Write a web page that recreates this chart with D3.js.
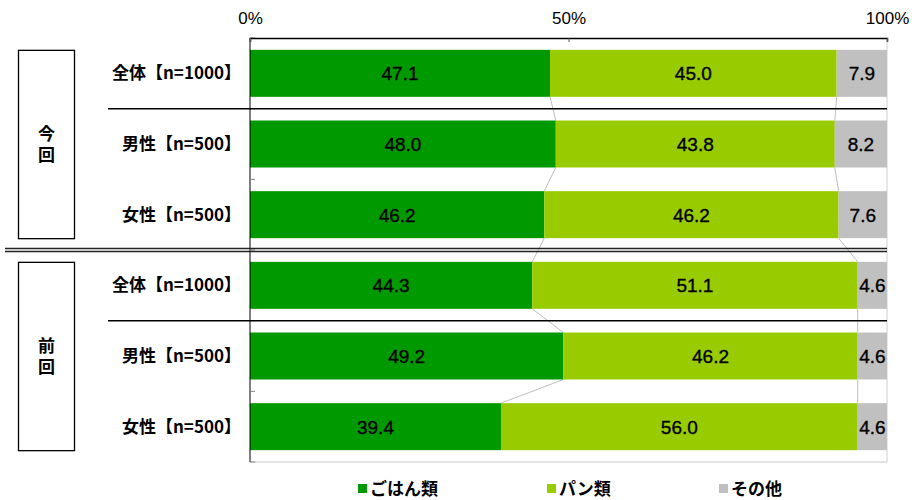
<!DOCTYPE html>
<html>
<head>
<meta charset="utf-8">
<script src="https://cdn.jsdelivr.net/npm/d3@7"></script>
<style>
body { margin: 0; background: #fff; }
svg { display: block; font-family: "Noto Sans CJK JP", "Liberation Sans", sans-serif; }
</style>
</head>
<body>
<script>
//chart data
var categories = ["全体【n=1000】", "男性【n=500】", "女性【n=500】", "全体【n=1000】", "男性【n=500】", "女性【n=500】"];
var groups = ["今回", "前回"];
var seriesNames = ["ごはん類", "パン類", "その他"];
var gohan = [47.1, 48.0, 46.2, 44.3, 49.2, 39.4];
var pan = [45.0, 43.8, 46.2, 51.1, 46.2, 56.0];
var sonota = [7.9, 8.2, 7.6, 4.6, 4.6, 4.6];
var tickLabels = ["0%", "50%", "100%"];
var colors = ["#009900", "#99cc00", "#c0c0c0"];

var width = 912, height = 500;

var svg = d3.select("body").append("svg")
    .attr("width", width)
    .attr("height", height);

var x = d3.scaleLinear().domain([0, 100]).range([250, 887]);
var y = d3.scaleBand().domain(d3.range(categories.length)).range([38, 462]).paddingInner(0.335).paddingOuter(0.1675);

//build rows for stacking
var rows = categories.map(function(c, i){
    return {i: i, "ごはん類": gohan[i], "パン類": pan[i], "その他": sonota[i]};
});
var stacked = d3.stack().keys(seriesNames)(rows);

//frame: right and bottom light, top dark
svg.append("line").attr("x1", x(100)).attr("x2", x(100)).attr("y1", 38).attr("y2", 462)
    .attr("stroke", "#d0d0d0").attr("stroke-width", 1);
svg.append("line").attr("x1", x(0)).attr("x2", x(100)).attr("y1", 462).attr("y2", 462)
    .attr("stroke", "#d9d9d9").attr("stroke-width", 1.5);

//connector lines between consecutive bars
stacked.slice(0, 2).forEach(function(s){
    for (var i = 0; i < s.length - 1; i++){
        svg.append("line")
            .attr("x1", x(s[i][1])).attr("y1", y(i) + y.bandwidth())
            .attr("x2", x(s[i + 1][1])).attr("y2", y(i + 1))
            .attr("stroke", "#a0a0a0").attr("stroke-width", 0.7);
    }
});

//bars
var layers = svg.selectAll(".layer")
    .data(stacked)
    .enter().append("g")
    .attr("class", "layer")
    .attr("fill", function(d, k){ return colors[k]; });

layers.selectAll("rect")
    .data(function(d){ return d; })
    .enter().append("rect")
    .attr("x", function(d){ return x(d[0]); })
    .attr("y", function(d){ return y(d.data.i); })
    .attr("width", function(d){ return x(d[1]) - x(d[0]); })
    .attr("height", y.bandwidth());

//value labels
layers.selectAll("text")
    .data(function(d){ return d; })
    .enter().append("text")
    .attr("x", function(d){ return (x(d[0]) + x(d[1])) / 2; })
    .attr("y", function(d){ return y(d.data.i) + y.bandwidth() / 2; })
    .attr("dy", "0.36em")
    .attr("text-anchor", "middle")
    .attr("fill", "#000")
    .attr("stroke", "#000")
    .attr("stroke-width", 0.35)
    .style("font-family", "'Liberation Sans', Arial, sans-serif")
    .style("font-size", "19px")
    .text(function(d){ return (d[1] - d[0]).toFixed(1); });

//left axis with inward ticks at band edges
var yAxisG = svg.append("g");
yAxisG.append("line").attr("x1", 250).attr("x2", 250).attr("y1", 38).attr("y2", 462)
    .attr("stroke", "#000").attr("stroke-width", 1);
d3.range(categories.length + 1).forEach(function(k){
    var yy = 38 + k * y.step();
    yAxisG.append("line").attr("x1", 250).attr("x2", 255).attr("y1", yy).attr("y2", yy)
        .attr("stroke", "#808080").attr("stroke-width", 1);
});

//top axis
var xAxis = d3.axisTop(x).tickValues([0, 50, 100]).tickSize(-4)
    .tickFormat(function(d, i){ return tickLabels[i]; });
var xg = svg.append("g").attr("transform", "translate(0,38)").call(xAxis);
xg.select(".domain").attr("stroke", "#000").attr("stroke-width", 1.5);
xg.selectAll(".tick line").attr("stroke", "#555");
xg.selectAll(".tick text")
    .attr("y", -14)
    .attr("dy", "0em")
    .attr("fill", "#000")
    .style("font-family", "'Liberation Sans', Arial, sans-serif")
    .style("font-size", "17px");

//separator lines inside groups
[1, 4].forEach(function(k){
    var yy = 38 + k * y.step();
    svg.append("line").attr("x1", 108).attr("x2", 887).attr("y1", yy).attr("y2", yy)
        .attr("stroke", "#000").attr("stroke-width", 1.5);
});

//double line between groups
var yMid = 38 + 3 * y.step();
[-1.5, 1.5].forEach(function(o){
    svg.append("line").attr("x1", 5).attr("x2", 887).attr("y1", yMid + o).attr("y2", yMid + o)
        .attr("stroke", "#222").attr("stroke-width", 1.3);
});

//category labels
svg.selectAll(".cat")
    .data(categories)
    .enter().append("text")
    .attr("class", "cat")
    .attr("x", 241)
    .attr("y", function(d, i){ return y(i) + y.bandwidth() / 2; })
    .attr("dy", "0.36em")
    .attr("text-anchor", "end")
    .style("font-size", "17px")
    .style("font-weight", "bold")
    .text(function(d){ return d; });

//group boxes with vertical text
groups.forEach(function(g, k){
    var top = y(k * 3), bottom = y(k * 3 + 2) + y.bandwidth();
    svg.append("rect")
        .attr("x", 18.5).attr("y", top + 0.5)
        .attr("width", 56).attr("height", bottom - top)
        .attr("fill", "none").attr("stroke", "#000").attr("stroke-width", 1.3);
    svg.append("text")
        .attr("x", 46.5)
        .attr("y", (top + bottom) / 2 + 2)
        .attr("text-anchor", "middle")
        .style("writing-mode", "vertical-rl")
        .style("letter-spacing", "4px")
        .style("font-size", "17px")
        .style("font-weight", "bold")
        .text(g);
});

//legend
var legendX = [358, 547, 719];
var legend = svg.selectAll(".legend")
    .data(seriesNames)
    .enter().append("g")
    .attr("class", "legend")
    .attr("transform", function(d, i){ return "translate(" + legendX[i] + ",484)"; });
legend.append("rect").attr("width", 9).attr("height", 9)
    .attr("fill", function(d, i){ return colors[i]; });
legend.append("text").attr("x", 12).attr("y", 4.5).attr("dy", "0.36em")
    .style("font-size", "17px").style("font-weight", "bold")
    .text(function(d){ return d; });
</script>
</body>
</html>
